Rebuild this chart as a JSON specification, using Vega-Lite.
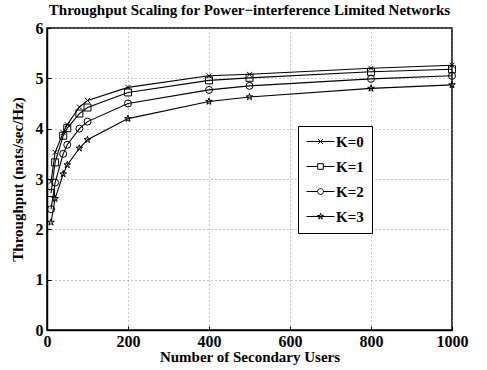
{
  "$schema": "https://vega.github.io/schema/vega-lite/v6.json",
  "width": 405,
  "height": 302,
  "autosize": {"type": "none"},
  "padding": {"left": 47, "top": 28, "right": 35, "bottom": 40},
  "background": "white",
  "title": {
    "text": "Throughput Scaling for Power−interference Limited Networks",
    "font": "Liberation Serif",
    "fontSize": 15,
    "fontWeight": "bold",
    "color": "black",
    "anchor": "middle",
    "offset": 2
  },
  "config": {
    "view": {"stroke": "black", "strokeWidth": 1.5},
    "axis": {
      "labelFont": "Liberation Serif",
      "labelFontWeight": "bold",
      "labelFontSize": 16,
      "labelColor": "black",
      "titleFont": "Liberation Serif",
      "titleFontWeight": "bold",
      "titleFontSize": 15,
      "titleColor": "black",
      "grid": true,
      "gridColor": "#8c8c8c",
      "gridDash": [1, 3],
      "gridWidth": 1,
      "domainColor": "black",
      "domainWidth": 1.5,
      "tickColor": "black",
      "tickSize": -4
    }
  },
  "data": {
    "values": [
      {"n": 10, "K": "K=0", "t": 2.95},
      {"n": 20, "K": "K=0", "t": 3.53},
      {"n": 40, "K": "K=0", "t": 3.92},
      {"n": 50, "K": "K=0", "t": 4.08},
      {"n": 80, "K": "K=0", "t": 4.43},
      {"n": 100, "K": "K=0", "t": 4.56},
      {"n": 200, "K": "K=0", "t": 4.82},
      {"n": 400, "K": "K=0", "t": 5.05},
      {"n": 500, "K": "K=0", "t": 5.08},
      {"n": 800, "K": "K=0", "t": 5.2},
      {"n": 1000, "K": "K=0", "t": 5.26},
      {"n": 10, "K": "K=1", "t": 2.72},
      {"n": 20, "K": "K=1", "t": 3.33},
      {"n": 40, "K": "K=1", "t": 3.86},
      {"n": 50, "K": "K=1", "t": 4.01},
      {"n": 80, "K": "K=1", "t": 4.3},
      {"n": 100, "K": "K=1", "t": 4.42},
      {"n": 200, "K": "K=1", "t": 4.72},
      {"n": 400, "K": "K=1", "t": 4.96},
      {"n": 500, "K": "K=1", "t": 5.01},
      {"n": 800, "K": "K=1", "t": 5.13},
      {"n": 1000, "K": "K=1", "t": 5.18},
      {"n": 10, "K": "K=2", "t": 2.4},
      {"n": 20, "K": "K=2", "t": 2.93},
      {"n": 40, "K": "K=2", "t": 3.5},
      {"n": 50, "K": "K=2", "t": 3.68},
      {"n": 80, "K": "K=2", "t": 4.0},
      {"n": 100, "K": "K=2", "t": 4.14},
      {"n": 200, "K": "K=2", "t": 4.5},
      {"n": 400, "K": "K=2", "t": 4.77},
      {"n": 500, "K": "K=2", "t": 4.85},
      {"n": 800, "K": "K=2", "t": 4.99},
      {"n": 1000, "K": "K=2", "t": 5.05},
      {"n": 10, "K": "K=3", "t": 2.14},
      {"n": 20, "K": "K=3", "t": 2.61},
      {"n": 40, "K": "K=3", "t": 3.1},
      {"n": 50, "K": "K=3", "t": 3.28},
      {"n": 80, "K": "K=3", "t": 3.61},
      {"n": 100, "K": "K=3", "t": 3.78},
      {"n": 200, "K": "K=3", "t": 4.2},
      {"n": 400, "K": "K=3", "t": 4.54},
      {"n": 500, "K": "K=3", "t": 4.63},
      {"n": 800, "K": "K=3", "t": 4.8},
      {"n": 1000, "K": "K=3", "t": 4.87}
    ]
  },
  "encoding": {
    "x": {
      "field": "n",
      "type": "quantitative",
      "scale": {"domain": [0, 1000], "nice": false},
      "axis": {"values": [0, 200, 400, 600, 800, 1000], "format": "d", "title": "Number of Secondary Users", "labelPadding": 7, "titlePadding": 0, "labelFlush": false}
    },
    "y": {
      "field": "t",
      "type": "quantitative",
      "scale": {"domain": [0, 6], "nice": false},
      "axis": {"values": [0, 1, 2, 3, 4, 5, 6], "title": "Throughput (nats/sec/Hz)", "labelPadding": 8, "titlePadding": 10}
    }
  },
  "layer": [
    {
      "mark": {"type": "line", "color": "black", "strokeWidth": 1.1},
      "encoding": {"detail": {"field": "K", "type": "nominal"}}
    },
    {
      "mark": {"type": "point", "filled": false, "color": "black", "size": 49, "strokeWidth": 1, "opacity": 1},
      "encoding": {
        "shape": {
          "field": "K",
          "type": "nominal",
          "scale": {
            "domain": ["K=0", "K=1", "K=2", "K=3"],
            "range": [
              "M-0.7,-0.7L0.7,0.7M-0.7,0.7L0.7,-0.7",
              "square",
              "circle",
              "M0,-1L0.225,-0.309L0.951,-0.309L0.363,0.118L0.588,0.809L0,0.382L-0.588,0.809L-0.363,0.118L-0.951,-0.309L-0.225,-0.309Z"
            ]
          },
          "legend": null
        }
      }
    },
    {
      "mark": {"type": "point", "filled": false, "color": "black", "size": 49, "strokeWidth": 1, "opacity": 0},
      "encoding": {
        "shape": {
          "field": "K",
          "type": "nominal",
          "scale": {
            "domain": ["K=0", "K=1", "K=2", "K=3"],
            "range": [
              "M-1,0L3,0M0.65,-0.35L1.35,0.35M0.65,0.35L1.35,-0.35",
              "M-1,0L0.6,0M1.4,0L3,0M0.6,-0.4L1.4,-0.4L1.4,0.4L0.6,0.4Z",
              "M-1,0L0.58,0M1.42,0L3,0M0.58,0A0.42,0.42 0 1,0 1.42,0A0.42,0.42 0 1,0 0.58,0Z",
              "M-1,0L3,0M1,-0.45L1.101,-0.139L1.428,-0.139L1.163,0.053L1.265,0.364L1,0.172L0.735,0.364L0.837,0.053L0.572,-0.139L0.899,-0.139Z"
            ]
          },
          "legend": {
            "orient": "none",
            "legendX": 251,
            "legendY": 98,
            "title": null,
            "strokeColor": "black",
            "fillColor": "white",
            "padding": 8,
            "labelFont": "Liberation Serif",
            "labelFontWeight": "bold",
            "labelFontSize": 15,
            "labelColor": "black",
            "labelOffset": 15,
            "symbolSize": 196,
            "symbolStrokeWidth": 1,
            "symbolStrokeColor": "black",
            "symbolOpacity": 1,
            "rowPadding": 9
          }
        }
      }
    }
  ],
  "resolve": {"scale": {"shape": "independent"}}
}
